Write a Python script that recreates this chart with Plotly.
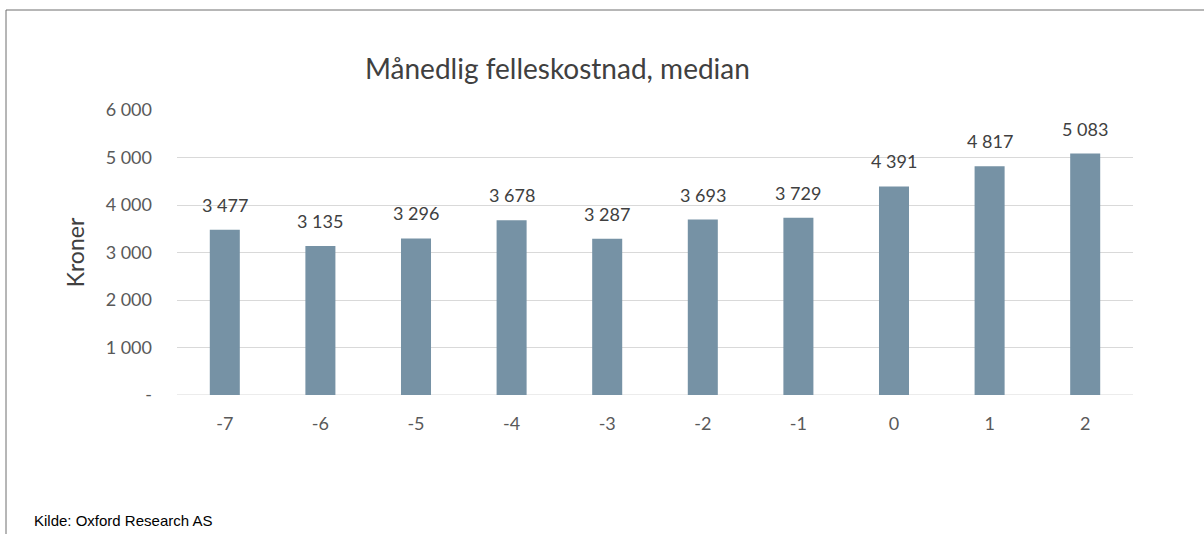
import plotly.graph_objects as go

categories = ["-7", "-6", "-5", "-4", "-3", "-2", "-1", "0", "1", "2"]
values = [3477, 3135, 3296, 3678, 3287, 3693, 3729, 4391, 4817, 5083]
y_tickvals = [0, 1000, 2000, 3000, 4000, 5000, 6000]
y_ticktext = ["-", "1 000", "2 000", "3 000", "4 000", "5 000", "6 000"]
title_text = "Månedlig felleskostnad, median"
y_title = "Kroner"
source_text = "Kilde: Oxford Research AS"

W, H = 1204, 534
L, R, T, B = 177, 71, 110, 139
PW, PH = W - L - R, H - T - B

def px_x(px):
    return (px - L) / PW

def px_y(py):
    return (H - B - py) / PH

FONT = "Lato, Open Sans, sans-serif"
BAR = "#7692A5"
TXT = "#595959"

fig = go.Figure()
fig.add_trace(go.Bar(
    x=categories, y=values, marker=dict(color=BAR, line=dict(width=0)),
    hoverinfo="x+y",
))

for i, v in enumerate(values):
    fig.add_annotation(
        x=i, y=v, xref="x", yref="y", text=f"{v:,}".replace(",", " "),
        showarrow=False, yanchor="bottom", yshift=12,
        font=dict(family=FONT, size=18, color="#404040"),
    )

fig.add_annotation(
    x=px_x(557), y=px_y(68), xref="paper", yref="paper", text=title_text,
    showarrow=False, xanchor="center", yanchor="middle",
    font=dict(family=FONT, size=28, color="#404040"),
)
fig.add_annotation(
    x=px_x(32), y=px_y(520), xref="paper", yref="paper", text=source_text,
    showarrow=False, xanchor="left", yanchor="middle",
    font=dict(family="Liberation Sans, Arial, sans-serif", size=15, color="#000000"),
)

# outer frame (top and left visible)
fig.add_shape(type="line", xref="paper", yref="paper",
              x0=px_x(6), x1=px_x(1210), y0=px_y(10), y1=px_y(10),
              line=dict(color="#6E6E6E", width=1))
fig.add_shape(type="line", xref="paper", yref="paper",
              x0=px_x(6), x1=px_x(6), y0=px_y(10), y1=px_y(540),
              line=dict(color="#6E6E6E", width=1))

fig.update_layout(
    width=W, height=H,
    margin=dict(l=L, r=R, t=T, b=B, autoexpand=False),
    paper_bgcolor="white", plot_bgcolor="white",
    showlegend=False, bargap=0.686,
    font=dict(family=FONT, size=18, color=TXT),
)
fig.update_xaxes(
    type="category", range=[-0.5, len(categories) - 0.5],
    showgrid=False, showline=False, zeroline=False,
    ticks="", tickfont=dict(family=FONT, size=18, color=TXT),
    ticklabelstandoff=16,
)
fig.update_yaxes(
    range=[0, 6000], tickvals=y_tickvals, ticktext=y_ticktext,
    showgrid=True, gridcolor="#D9D9D9", gridwidth=1,
    zeroline=False, showline=False, ticks="",
    tickfont=dict(family=FONT, size=18, color=TXT),
    ticklabelstandoff=24,
    title=dict(text=y_title, standoff=14, font=dict(family=FONT, size=23, color="#404040")),
)
fig.add_shape(type="line", xref="paper", yref="y", x0=0, x1=1, y0=0, y1=0,
              line=dict(color="#D9D9D9", width=1), layer="below")

fig.write_html("out.html", config={"displayModeBar": False},
               post_script="document.body.style.margin='0';")
